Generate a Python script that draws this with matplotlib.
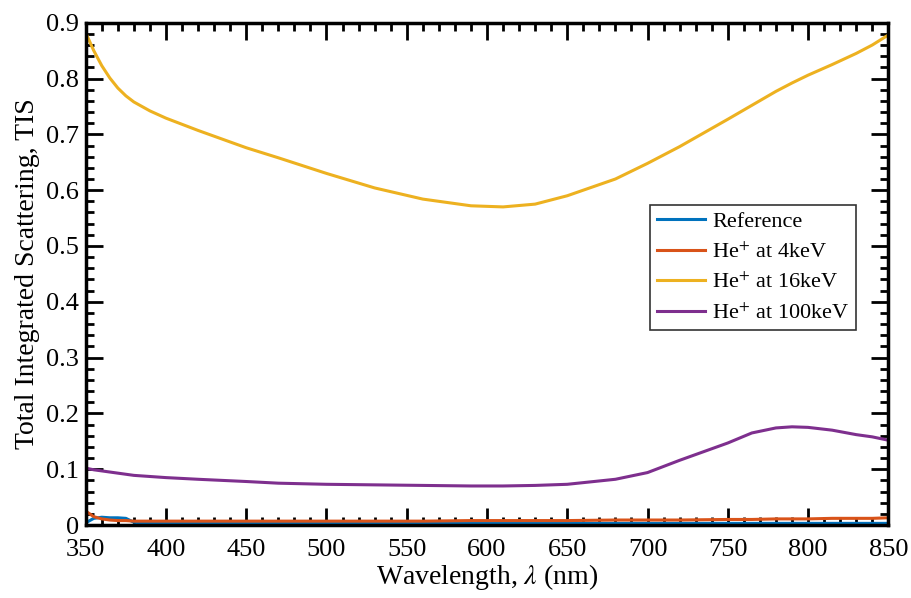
import matplotlib
matplotlib.use("Agg")
import matplotlib.pyplot as plt
from matplotlib.ticker import MultipleLocator, FuncFormatter

plt.rcParams["font.family"] = ["Liberation Serif", "DejaVu Serif"]
plt.rcParams["mathtext.fontset"] = "stix"

# wavelength samples (nm)
wl = [350, 355, 360, 365, 370, 375, 380, 390, 400, 420, 450, 470, 500, 530, 560, 590, 610,
      630, 650, 680, 700, 720, 750, 765, 780, 790, 800, 815, 830, 840, 850]

# TIS values
tis_ref = [0.004, 0.012, 0.014, 0.013, 0.013, 0.012, 0.005, 0.003, 0.003, 0.003, 0.003,
           0.003, 0.003, 0.003, 0.003, 0.003, 0.003, 0.003, 0.003, 0.003, 0.003, 0.003,
           0.003, 0.003, 0.003, 0.003, 0.003, 0.003, 0.003, 0.003, 0.003]
tis_4kev = [0.025, 0.015, 0.011, 0.009, 0.008, 0.008, 0.007, 0.007, 0.007, 0.007, 0.007,
            0.007, 0.007, 0.007, 0.007, 0.008, 0.008, 0.008, 0.008, 0.009, 0.009, 0.009,
            0.010, 0.010, 0.011, 0.011, 0.011, 0.012, 0.012, 0.012, 0.013]
tis_16kev = [0.882, 0.850, 0.823, 0.801, 0.783, 0.769, 0.758, 0.742, 0.729, 0.707, 0.676,
             0.658, 0.630, 0.604, 0.584, 0.572, 0.570, 0.575, 0.590, 0.620, 0.648, 0.678,
             0.727, 0.752, 0.777, 0.792, 0.806, 0.825, 0.845, 0.860, 0.878]
tis_100kev = [0.102, 0.099, 0.097, 0.095, 0.093, 0.091, 0.089, 0.087, 0.085, 0.082, 0.078,
              0.075, 0.073, 0.072, 0.071, 0.070, 0.070, 0.071, 0.073, 0.082, 0.094, 0.116,
              0.147, 0.165, 0.174, 0.176, 0.175, 0.170, 0.162, 0.158, 0.152]

labels = ["Reference", "He$^{+}$ at 4keV", "He$^{+}$ at 16keV", "He$^{+}$ at 100keV"]
colors = ["#0072BD", "#D95319", "#EDB120", "#7E2F8E"]

fig = plt.figure(figsize=(9.12, 5.98), dpi=100)
ax = fig.add_axes([0.094, 0.122, 0.880, 0.840])

for ys, lab, c in zip([tis_ref, tis_4kev, tis_16kev, tis_100kev], labels, colors):
    ax.plot(wl, ys, color=c, lw=2.2, label=lab)

ax.set_xlim(350, 850)
ax.set_ylim(0, 0.9)
ax.xaxis.set_major_locator(MultipleLocator(50))
ax.xaxis.set_minor_locator(MultipleLocator(10))
ax.yaxis.set_major_locator(MultipleLocator(0.1))
ax.yaxis.set_minor_locator(MultipleLocator(0.02))
ax.yaxis.set_major_formatter(FuncFormatter(lambda v, p: "0" if abs(v) < 1e-9 else "%.1f" % v))

ax.tick_params(which="both", direction="in", top=True, right=True, width=2, colors="black",
               labelsize=19)
ax.tick_params(axis="x", pad=10)
ax.tick_params(axis="y", pad=5)
ax.tick_params(which="major", length=12)
ax.tick_params(which="minor", length=6)
for s in ax.spines.values():
    s.set_linewidth(2.5)

ax.set_xlabel(r"Wavelength, $\lambda$ (nm)", fontsize=20, labelpad=1)
ax.set_ylabel("Total Integrated Scattering, TIS", fontsize=20, labelpad=4)

leg = ax.legend(loc="upper left", bbox_to_anchor=(0.703, 0.6375), fontsize=16, frameon=True,
                fancybox=False, edgecolor="black", handlelength=2.2, handletextpad=0.3,
                borderpad=0.3, labelspacing=0.45, borderaxespad=0)
leg.get_frame().set_linewidth(1.2)

fig.savefig("out.png", dpi=100)
